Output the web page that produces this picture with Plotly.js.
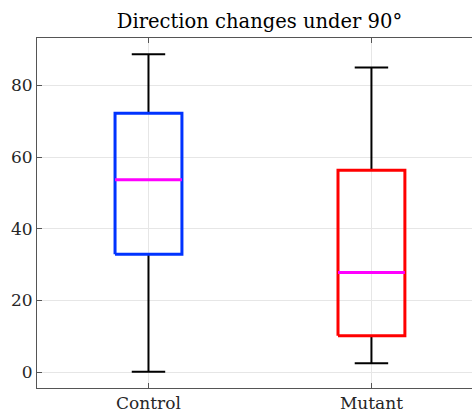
<!DOCTYPE html>
<html>
<head>
<meta charset="utf-8">
<script src="https://cdn.plot.ly/plotly-3.0.1.min.js"></script>
<style>html,body{margin:0;padding:0;background:#fff;}#chart{width:472px;height:414px;}</style>
</head>
<body>
<div id="chart"></div>
<script>
// Data
var categories = ['Control', 'Mutant'];
var lowerWhisker = [0.1, 2.5];
var q1 = [32.9, 10.2];
var medians = [53.7, 27.8];
var q3 = [72.2, 56.3];
var upperWhisker = [88.7, 85.0];
var yTicks = [0, 20, 40, 60, 80];

var boxColors = ['#0033ff', '#ff0000'];
var medianColor = '#ff00ff';
var halfBox = 0.15, halfCap = 0.075;

var traces = [];
categories.forEach(function (cat, i) {
  var c = i + 1;
  traces.push({
    type: 'scatter', mode: 'lines', hoverinfo: 'skip', showlegend: false,
    x: [c, c, null, c, c],
    y: [q3[i], upperWhisker[i], null, q1[i], lowerWhisker[i]],
    line: {color: '#000000', width: 2}
  });
  traces.push({
    type: 'scatter', mode: 'lines', hoverinfo: 'skip', showlegend: false,
    x: [c - halfCap, c + halfCap, null, c - halfCap, c + halfCap],
    y: [upperWhisker[i], upperWhisker[i], null, lowerWhisker[i], lowerWhisker[i]],
    line: {color: '#000000', width: 2}
  });
  traces.push({
    type: 'scatter', mode: 'lines', hoverinfo: 'skip', showlegend: false,
    x: [c - halfBox, c + halfBox, c + halfBox, c - halfBox, c - halfBox],
    y: [q1[i], q1[i], q3[i], q3[i], q1[i]],
    line: {color: boxColors[i], width: 3}
  });
  traces.push({
    type: 'scatter', mode: 'lines', hoverinfo: 'skip', showlegend: false,
    x: [c - halfBox, c + halfBox],
    y: [medians[i], medians[i]],
    line: {color: medianColor, width: 3}
  });
});

var fam = '"DejaVu Serif", "Liberation Serif", serif';

var layout = {
  width: 472, height: 414,
  margin: {l: 37, r: 0, t: 38, b: 26, pad: 0},
  paper_bgcolor: '#ffffff', plot_bgcolor: '#ffffff',
  font: {family: fam, size: 17, color: '#262626'},
  title: {
    text: 'Direction changes under 90°',
    font: {family: fam, size: 19.5, color: '#000000'},
    x: 0.5115, xref: 'paper', xanchor: 'center',
    y: 1, yref: 'container', yanchor: 'top',
    pad: {t: 14}
  },
  xaxis: {
    range: [0.5, 2.451],
    tickvals: categories.map(function (_, i) { return i + 1; }),
    ticktext: categories,
    ticks: 'inside', ticklen: 5, tickwidth: 1, tickcolor: '#555555',
    showline: true, linecolor: '#555555', linewidth: 1, mirror: 'ticks',
    showgrid: true, gridcolor: '#e6e6e6', gridwidth: 1,
    zeroline: false, fixedrange: true,
    tickfont: {family: fam, size: 17, color: '#262626'}
  },
  yaxis: {
    range: [-4.4, 93.2],
    tickvals: yTicks,
    ticks: 'inside', ticklen: 5, tickwidth: 1, tickcolor: '#555555',
    showline: true, linecolor: '#555555', linewidth: 1, mirror: false,
    showgrid: true, gridcolor: '#e6e6e6', gridwidth: 1,
    zeroline: false, fixedrange: true,
    tickfont: {family: fam, size: 17, color: '#262626'}
  }
};

Plotly.newPlot('chart', traces, layout, {displayModeBar: false, staticPlot: true});
</script>
</body>
</html>
